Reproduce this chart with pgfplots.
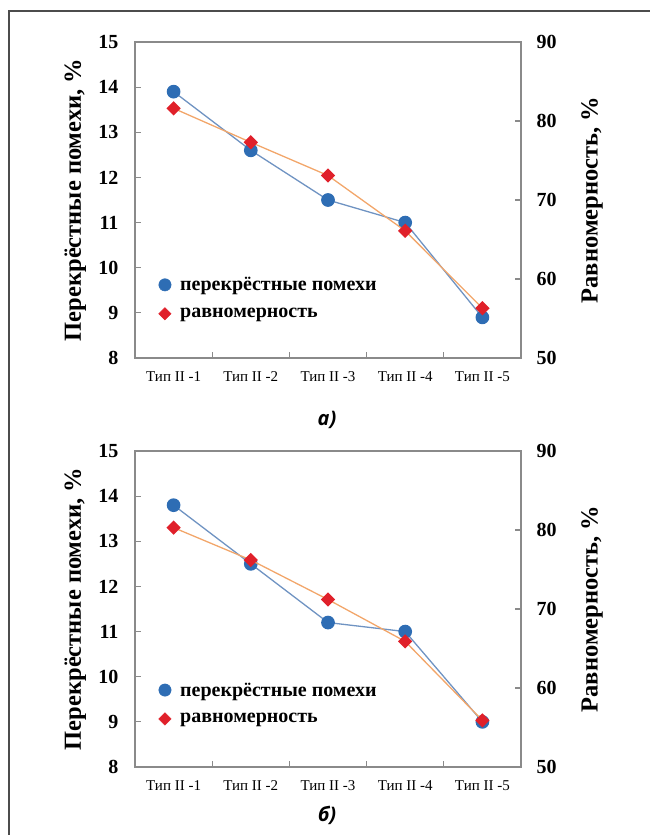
\documentclass[border=0pt]{standalone}
\usepackage{fontspec}
\setmainfont{Liberation Serif}
\newfontfamily\capfont{Open Sans}
\usepackage{pgfplots}
\pgfplotsset{compat=1.18}
\definecolor{ptblue}{HTML}{2E6DB4}
\definecolor{lnblue}{HTML}{6F93C2}
\definecolor{ptred}{HTML}{E0202A}
\definecolor{lnorange}{HTML}{F2A66A}
\definecolor{boxgray}{HTML}{8A8A8A}

\pgfplotsset{
  panel/.style={
    scale only axis, width=386pt, height=316pt,
    xmin=-0.5, xmax=4.5,
    axis line style={boxgray, line width=1.2pt},
    tick style={boxgray, line width=1.2pt},
    tick align=inside,
    major tick length=6pt, minor tick length=6pt,
    /pgf/number format/assume math mode=true,
    y tick label style={font=\fontsize{20}{20}\selectfont\bfseries},
  },
  leftpanel/.style={panel,
    ymin=8, ymax=15, ytick={8,...,15}, ytick pos=left,
    y tick label style={xshift=-13pt},
    xtick={0,...,4},
    xticklabels={Тип II -1,Тип II -2,Тип II -3,Тип II -4,Тип II -5},
    minor xtick={0.5,1.5,2.5,3.5},
    xtick pos=bottom,
    major x tick style={draw=none},
    x tick label style={font=\fontsize{15}{15}\selectfont, yshift=-10pt},
    ylabel={Перекрёстные помехи, \%},
    every axis y label/.style={at={(axis description cs:-0.155,0.5)}, rotate=90, anchor=center,
      font=\fontsize{24.5}{24.5}\selectfont\bfseries},
    legend style={draw=none, fill=none, font=\fontsize{20}{20}\selectfont\bfseries,
      anchor=north west, row sep=12pt, column sep=7pt, inner sep=0pt, cells={anchor=west}},
  },
  rightpanel/.style={panel,
    ymin=50, ymax=90, ytick={50,60,...,90},
    axis x line=none, axis y line*=right,
    y tick label style={xshift=12pt},
    ylabel={Равномерность, \%},
    every axis y label/.style={at={(axis description cs:1.184,0.5)}, rotate=90, anchor=center,
      font=\fontsize{24.5}{24.5}\selectfont\bfseries},
  },
  blueser/.style={lnblue, line width=1.3pt, mark=*, mark size=6.2pt, mark options={ptblue, fill=ptblue}},
  redser/.style={lnorange, line width=1.3pt, mark=square*, mark size=4.4pt, mark options={ptred, fill=ptred, rotate=45}},
  bluekey/.style={only marks, mark=*, mark size=6.2pt, mark options={ptblue, fill=ptblue}},
  redkey/.style={only marks, mark=square*, mark size=4.4pt, mark options={ptred, fill=ptred, rotate=45}},
}

\begin{document}
\begin{tikzpicture}
\useasboundingbox (0,0) rectangle (650pt,-835pt);
\draw[line width=1.2pt, black!70] (9pt,-840pt) -- (9pt,-11pt) -- (655pt,-11pt);

% panel a
\begin{axis}[leftpanel, at={(135pt,-358pt)}, anchor=south west, legend style={at={(0.061,0.262)}}]
\addplot[blueser, forget plot] coordinates {(0,13.9) (1,12.6) (2,11.5) (3,11.0) (4,8.9)};
\addlegendimage{bluekey}
\addlegendentry{перекрёстные помехи}
\addlegendimage{redkey}
\addlegendentry{равномерность}
\end{axis}
\begin{axis}[rightpanel, at={(135pt,-358pt)}, anchor=south west]
\addplot[redser] coordinates {(0,81.6) (1,77.3) (2,73.1) (3,66.1) (4,56.3)};
\end{axis}
\node[font=\capfont\bfseries\itshape\fontsize{20}{20}\selectfont] at (327pt,-420pt) {а)};

% panel b
\begin{axis}[leftpanel, at={(135pt,-767pt)}, anchor=south west, legend style={at={(0.061,0.274)}}]
\addplot[blueser, forget plot] coordinates {(0,13.8) (1,12.5) (2,11.2) (3,11.0) (4,9.0)};
\addlegendimage{bluekey}
\addlegendentry{перекрёстные помехи}
\addlegendimage{redkey}
\addlegendentry{равномерность}
\end{axis}
\begin{axis}[rightpanel, at={(135pt,-767pt)}, anchor=south west]
\addplot[redser] coordinates {(0,80.3) (1,76.2) (2,71.2) (3,65.9) (4,55.9)};
\end{axis}
\node[font=\capfont\bfseries\itshape\fontsize{20}{20}\selectfont] at (327pt,-815pt) {б)};
\end{tikzpicture}
\end{document}
